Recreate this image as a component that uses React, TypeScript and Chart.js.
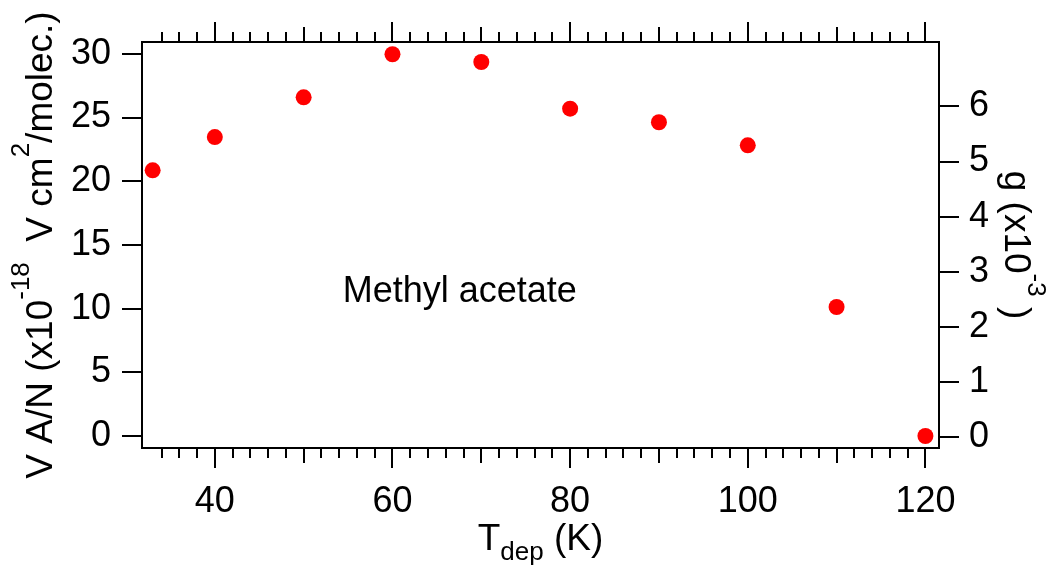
import React, { useEffect, useRef } from "react";
import { Chart, registerables } from "chart.js";

Chart.register(...registerables);

// ---- data ----
const tDep = [33, 40, 50, 60, 70, 80, 90, 100, 110, 120];
const vAN = [20.86, 23.47, 26.59, 29.97, 29.36, 25.7, 24.63, 22.82, 10.13, 0];

// ---- tick values ----
const xMajorTicks = [40, 60, 80, 100, 120];
const xMediumTicks = [50, 70, 90, 110];
const xMinorTicks = [34, 36, 38, 42, 44, 46, 48, 52, 54, 56, 58, 62, 64, 66, 68, 72, 74, 76, 78, 82, 84, 86, 88, 92, 94, 96, 98, 102, 104, 106, 108, 112, 114, 116, 118];
const leftTicks = [0, 5, 10, 15, 20, 25, 30];
const rightTicks = [0, 1, 2, 3, 4, 5, 6];

// ---- text ----
const annotation = "Methyl acetate";
const annotX = 54.4;
const annotY = 10.5;

const FONT = '"Liberation Sans", Arial, Helvetica, sans-serif';

type Seg = { text: string; size: number; dy: number };

const leftTitle: Seg[] = [
  { text: "V A/N (x10", size: 37, dy: 0 },
  { text: "-18", size: 26, dy: -23 },
  { text: "  V cm", size: 37, dy: 0 },
  { text: "2", size: 26, dy: -23 },
  { text: "/molec.)", size: 37, dy: 0 },
];
const rightTitle: Seg[] = [
  { text: "g (x10", size: 37, dy: 0 },
  { text: "-3", size: 26, dy: -23 },
  { text: " )", size: 37, dy: 0 },
];
const bottomTitle: Seg[] = [
  { text: "T", size: 37, dy: 0 },
  { text: "dep", size: 26, dy: 9.5 },
  { text: " (K)", size: 37, dy: 0 },
];

function drawRich(ctx: CanvasRenderingContext2D, segs: Seg[], cx: number, cy: number, angle: number) {
  ctx.save();
  ctx.translate(cx, cy);
  ctx.rotate(angle);
  ctx.textBaseline = "alphabetic";
  ctx.textAlign = "left";
  ctx.fillStyle = "#000";
  const widths = segs.map((s) => {
    ctx.font = `${s.size}px ${FONT}`;
    return ctx.measureText(s.text).width;
  });
  const total = widths.reduce((a, b) => a + b, 0);
  let px = -total / 2;
  segs.forEach((s, i) => {
    ctx.font = `${s.size}px ${FONT}`;
    ctx.fillText(s.text, px, s.dy);
    px += widths[i];
  });
  ctx.restore();
}

const framePlugin = {
  id: "igorFrame",
  afterDraw(chart: any) {
    const { ctx, chartArea: a, scales } = chart;
    const x = scales.x;
    const y = scales.y;
    const y2 = scales.y2;
    ctx.save();
    ctx.strokeStyle = "#000";
    ctx.lineWidth = 2;
    ctx.lineCap = "butt";
    ctx.strokeRect(a.left, a.top, a.right - a.left, a.bottom - a.top);
    ctx.beginPath();
    const xt = (v: number, len: number) => {
      const px = Math.round(x.getPixelForValue(v));
      ctx.moveTo(px, a.bottom);
      ctx.lineTo(px, a.bottom + len);
      ctx.moveTo(px, a.top);
      ctx.lineTo(px, a.top - len);
    };
    xMajorTicks.forEach((v) => xt(v, 20));
    xMediumTicks.forEach((v) => xt(v, 15));
    xMinorTicks.forEach((v) => xt(v, 10));
    leftTicks.forEach((v) => {
      const py = Math.round(y.getPixelForValue(v));
      ctx.moveTo(a.left, py);
      ctx.lineTo(a.left - 20, py);
    });
    rightTicks.forEach((v) => {
      const py = Math.round(y2.getPixelForValue(v));
      ctx.moveTo(a.right, py);
      ctx.lineTo(a.right + 20, py);
    });
    ctx.stroke();

    // annotation
    ctx.fillStyle = "#000";
    ctx.font = `36px ${FONT}`;
    ctx.textAlign = "left";
    ctx.textBaseline = "alphabetic";
    ctx.fillText(annotation, x.getPixelForValue(annotX), y.getPixelForValue(annotY));
    ctx.restore();

    const cy = (a.top + a.bottom) / 2;
    const cx = (a.left + a.right) / 2;
    drawRich(ctx, leftTitle, 52, cy, -Math.PI / 2);
    drawRich(ctx, rightTitle, 1005, cy, Math.PI / 2);
    drawRich(ctx, bottomTitle, cx, 550, 0);
  },
};

const noPad = (s: any) => {
  s.paddingTop = 0;
  s.paddingBottom = 0;
  s.paddingLeft = 0;
  s.paddingRight = 0;
};

export default function App() {
  const ref = useRef<HTMLCanvasElement | null>(null);

  useEffect(() => {
    if (!ref.current) return;
    Chart.defaults.font.family = FONT;
    const tickFont = { family: FONT, size: 36 };
    const chart = new Chart(ref.current, {
      type: "scatter",
      data: {
        datasets: [
          {
            label: "V A/N",
            data: tDep.map((t, i) => ({ x: t, y: vAN[i] })),
            backgroundColor: "#ff0000",
            borderColor: "#ff0000",
            borderWidth: 0,
            pointRadius: 8,
            pointHoverRadius: 8,
            yAxisID: "y",
            xAxisID: "x",
          },
        ],
      },
      options: {
        responsive: false,
        animation: false,
        events: [],
        layout: { padding: { top: 42, left: 0, right: 0, bottom: 0 } },
        plugins: { legend: { display: false }, tooltip: { enabled: false }, title: { display: false } },
        scales: {
          x: {
            type: "linear",
            position: "bottom",
            min: 31.8,
            max: 121.53,
            grid: { display: false, drawTicks: false },
            border: { display: false },
            ticks: { font: tickFont, color: "#000", padding: 32, maxRotation: 0, autoSkip: false },
            afterBuildTicks: (s: any) => {
              s.ticks = xMajorTicks.map((v) => ({ value: v }));
            },
            afterFit: (s: any) => {
              s.height = 119;
              noPad(s);
            },
          },
          y: {
            type: "linear",
            position: "left",
            min: -0.94,
            max: 30.93,
            grid: { display: false, drawTicks: false },
            border: { display: false },
            ticks: { font: tickFont, color: "#000", padding: 31, autoSkip: false },
            afterBuildTicks: (s: any) => {
              s.ticks = leftTicks.map((v) => ({ value: v }));
            },
            afterFit: (s: any) => {
              s.width = 142;
              noPad(s);
            },
          },
          y2: {
            type: "linear",
            position: "right",
            min: -0.198,
            max: 7.17,
            grid: { display: false, drawTicks: false },
            border: { display: false },
            ticks: { font: tickFont, color: "#000", padding: 30, autoSkip: false },
            afterBuildTicks: (s: any) => {
              s.ticks = rightTicks.map((v) => ({ value: v }));
            },
            afterFit: (s: any) => {
              s.width = 116;
              noPad(s);
            },
          },
        },
      },
      plugins: [framePlugin],
    });
    return () => chart.destroy();
  }, []);

  return (
    <div style={{ position: "fixed", left: 0, top: 0, width: 1055, height: 567, background: "#fff" }}>
      <canvas ref={ref} width={1055} height={567} style={{ display: "block" }} />
    </div>
  );
}
